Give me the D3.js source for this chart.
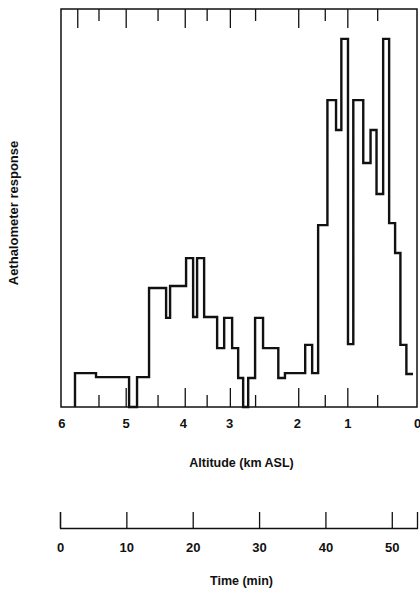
<!DOCTYPE html>
<html>
<head>
<meta charset="utf-8">
<script src="https://cdn.jsdelivr.net/npm/d3@7"></script>
<style>
  body { margin: 0; background: #fff; }
  text { font-family: "Liberation Sans", Arial, sans-serif; font-weight: bold; fill: #111; }
</style>
</head>
<body>
<div id="box"></div>
<script>
// aethalometer trace: each value holds from its start time to the next one (min)
var stepTimes  = [2.26, 5.43, 10.41, 11.61, 13.42, 15.99, 16.59, 19.0, 20.06, 20.66, 21.72, 23.68, 24.74, 25.94, 26.85, 27.6, 28.36, 29.4, 30.6, 32.9, 33.9, 36.95, 38.0, 38.9, 40.3, 41.6, 42.4, 43.4, 44.2, 45.7, 46.8, 47.7, 48.7, 49.6, 50.5, 51.3, 52.2];
var stepValues = [8.5, 7.5, 0, 7.5, 29.9, 22.4, 30.4, 37.4, 22.6, 37.4, 22.6, 14.8, 22.4, 14.8, 7.3, 0, 7.3, 22.4, 14.8, 7.3, 8.5, 15.6, 8.5, 45.7, 77.1, 69.6, 92.5, 15.8, 77.1, 61.3, 69.6, 53.5, 92.5, 46.2, 38.7, 15.6, 8.3];
var stepEnd = 53.2;

// altitude ticks, placed at the flight time they were passed
var altLabels     = ["6", "5", "4", "3", "2", "1", "0"];
var altLabelTimes = [0.2, 9.9, 18.5, 25.5, 35.7, 43.3, 53.8];
var altMajorTimes = [9.9, 18.8, 25.6, 35.9, 43.3];
var altMinorTimes = [5.8, 14.7, 22.1, 29.4, 39.9, 47.8];
var altTopExtra   = [2.6];

var timeTicks = [0, 10, 20, 30, 40, 50];
var timeMax = 53.8;

var margin = {"top": 9, "right": 3, "bottom": 188, "left": 60};
var svgwidth = 420, svgheight = 595;
var xwidth = svgwidth - margin.left - margin.right;
var yheight = svgheight - margin.top - margin.bottom;

var xscale = d3.scaleLinear().domain([0, timeMax]).range([0, xwidth]);
var yscale = d3.scaleLinear().domain([0, 100]).range([yheight, 0]);

var svg = d3.select("#box").append("svg")
    .attr("width", svgwidth)
    .attr("height", svgheight);
var board = svg.append("g")
    .attr("transform", "translate(" + margin.left + "," + margin.top + ")");

// frame
board.append("rect")
    .attr("x", xscale(0) + 1).attr("y", 0)
    .attr("width", xwidth - 1).attr("height", yheight)
    .attr("fill", "none").attr("stroke", "#111").attr("stroke-width", 1.5);

function tickAxis(axis, vals, size) {
    return axis.scale(xscale).tickValues(vals).tickSizeInner(size).tickSizeOuter(0).tickFormat("");
}
function styleAxis(g) {
    g.select(".domain").remove();
    g.selectAll(".tick line").attr("stroke", "#111").attr("stroke-width", 1.3);
}

// bottom altitude ticks (pointing up)
board.append("g").attr("transform", "translate(0," + yheight + ")")
    .call(tickAxis(d3.axisBottom(), altMajorTimes, -19)).call(styleAxis);
board.append("g").attr("transform", "translate(0," + yheight + ")")
    .call(tickAxis(d3.axisBottom(), altMinorTimes, -12)).call(styleAxis);
// top altitude ticks (pointing down)
board.append("g")
    .call(tickAxis(d3.axisTop(), altMajorTimes.concat(altTopExtra), -19)).call(styleAxis);
board.append("g")
    .call(tickAxis(d3.axisTop(), altMinorTimes, -12)).call(styleAxis);

// altitude labels
var altAxis = d3.axisBottom().scale(xscale).tickValues(altLabelTimes).tickSize(0).tickPadding(12)
    .tickFormat(function (d, i) { return altLabels[i]; });
board.append("g").attr("transform", "translate(0," + yheight + ")")
    .call(altAxis)
    .call(function (g) { g.select(".domain").remove(); })
    .selectAll("text").style("font-size", "13px");

board.append("text")
    .text("Altitude (km ASL)")
    .attr("x", xwidth / 2 + 3).attr("y", yheight + 60)
    .attr("text-anchor", "middle")
    .style("font-size", "12.5px");

board.append("text")
    .text("Aethalometer response")
    .attr("transform", "translate(-42," + (yheight / 2 + 5) + ") rotate(-90)")
    .attr("text-anchor", "middle")
    .style("font-size", "13px");

// trace
var pts = stepTimes.map(function (t, i) { return [t, stepValues[i]]; });
pts.push([stepEnd, stepValues[stepValues.length - 1]]);
var line = d3.line()
    .x(function (d) { return xscale(d[0]); })
    .y(function (d) { return yscale(d[1]); })
    .curve(d3.curveStepAfter);
board.append("path")
    .datum([[stepTimes[0], 0]].concat(pts))
    .attr("d", line)
    .attr("fill", "none")
    .attr("stroke", "#111")
    .attr("stroke-width", 2.4)
    .attr("stroke-linejoin", "miter");

// time axis
var tAxis = d3.axisBottom().scale(xscale).tickValues(timeTicks)
    .tickSizeInner(-16).tickSizeOuter(-16).tickPadding(15)
    .tickFormat(d3.format("d"));
board.append("g").attr("transform", "translate(0," + (yheight + 121) + ")")
    .call(tAxis)
    .call(function (g) {
        g.select(".domain").attr("stroke", "#111").attr("stroke-width", 1.3);
        g.selectAll(".tick line").attr("stroke", "#111").attr("stroke-width", 1.3);
    })
    .selectAll("text").style("font-size", "13px");

board.append("text")
    .text("Time (min)")
    .attr("x", xwidth / 2 + 3).attr("y", yheight + 178)
    .attr("text-anchor", "middle")
    .style("font-size", "12.5px");
</script>
</body>
</html>
